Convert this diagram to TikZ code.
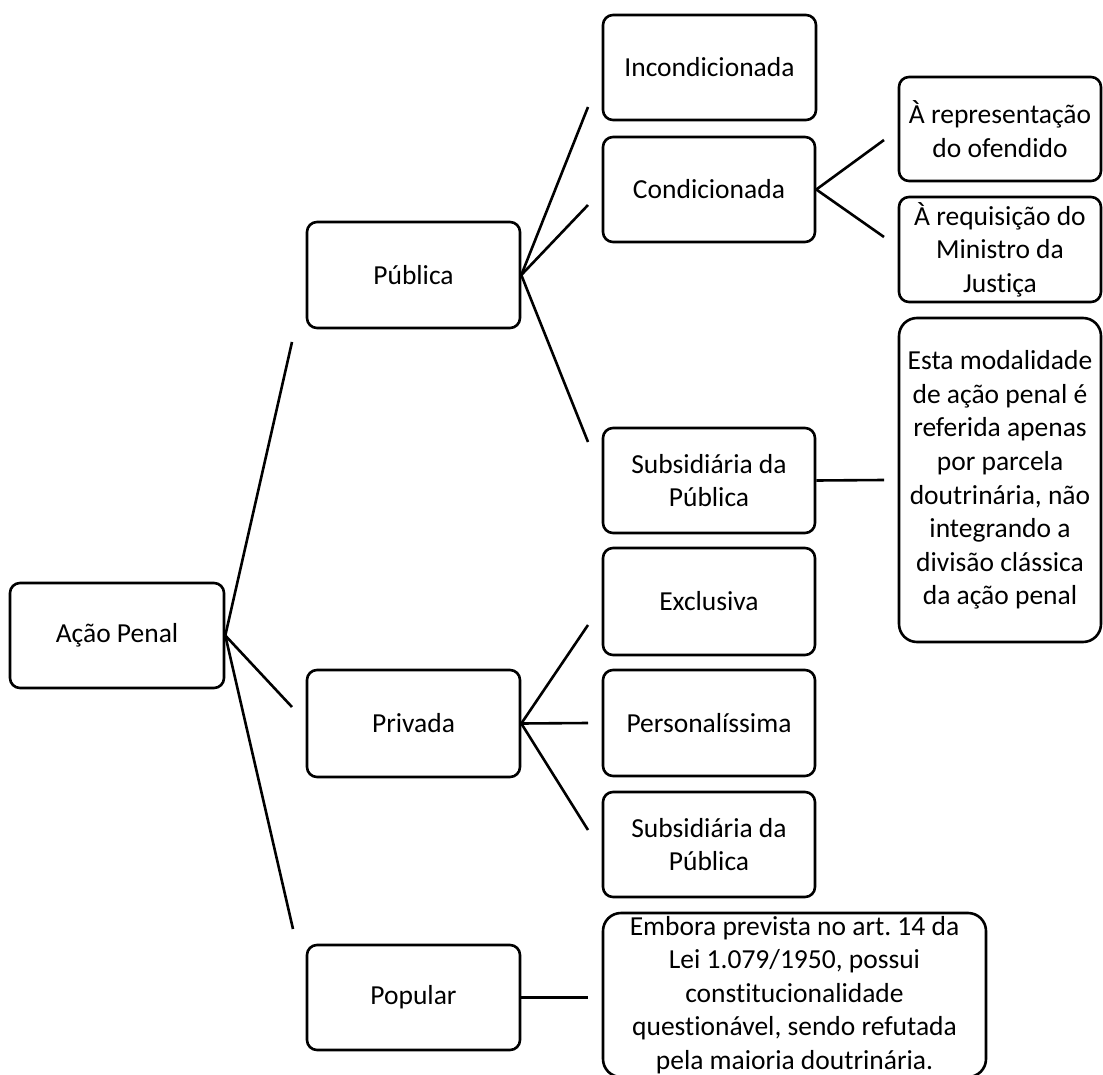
\documentclass[tikz,border=0pt]{standalone}
\usepackage{fontspec}
\setmainfont{Carlito}[RawFeature=-liga]
\frenchspacing
\begin{document}
\begin{tikzpicture}[x=1pt,y=-1pt,
  box/.style={draw=black, line width=2.6pt, rounded corners=10pt, align=center,
    inner sep=2pt, font=\fontsize{27.5}{33.6}\selectfont},
  big/.style={box, rounded corners=18pt},
  conn/.style={line width=2.6pt, black}]
\useasboundingbox (0,0) rectangle (1103,1075);
% level 0
\node[box, minimum width=214pt, minimum height=105pt] (ap) at (117,635.5) {Ação Penal};
% level 1
\node[box, minimum width=213pt, minimum height=106pt] (pub) at (413.5,275) {Pública};
\node[box, minimum width=213pt, minimum height=107pt] (priv) at (413.5,723.5) {Privada};
\node[box, minimum width=213pt, minimum height=105pt] (pop) at (413.5,997.5) {Popular};
% level 2
\node[box, minimum width=213pt, minimum height=105pt] (inc) at (709.5,67.5) {Incondicionada};
\node[box, minimum width=212pt, minimum height=105pt] (cond) at (709,189.5) {Condicionada};
\node[box, minimum width=212pt, minimum height=105pt] (sub1) at (709,480.5) {Subsidiária da\\Pública};
\node[box, minimum width=212pt, minimum height=107pt] (excl) at (709,601.5) {Exclusiva};
\node[box, minimum width=212pt, minimum height=106pt] (pers) at (709,723) {Personalíssima};
\node[box, minimum width=212pt, minimum height=105pt] (sub2) at (709,844.5) {Subsidiária da\\Pública};
\node[big, minimum width=383pt, minimum height=164pt] (emb) at (794.5,995)
  {Embora prevista no art. 14 da\\Lei 1.079/1950, possui\\constitucionalidade\\questionável, sendo refutada\\pela maioria doutrinária.};
% level 3
\node[box, minimum width=202pt, minimum height=104pt] (rep) at (1000,129) {À representação\\do ofendido};
\node[box, minimum width=202pt, minimum height=105pt] (req) at (1000,249.5) {À requisição do\\Ministro da\\Justiça};
\node[big, minimum width=202pt, minimum height=324pt] (esta) at (1000,480)
  {Esta modalidade\\de ação penal é\\referida apenas\\por parcela\\doutrinária, não\\integrando a\\divisão clássica\\da ação penal};
% free ends of connectors
\coordinate (e-pub) at (292,342);
\coordinate (e-priv) at (292,707);
\coordinate (e-pop) at (293,929);
\coordinate (e-inc) at (588,107);
\coordinate (e-cond) at (588,205);
\coordinate (e-sub1) at (588,442);
\coordinate (e-rep) at (884,140);
\coordinate (e-req) at (884,237);
\coordinate (e-esta) at (884,480);
\coordinate (e-excl) at (588,625);
\coordinate (e-pers) at (588,723);
\coordinate (e-sub2) at (588,830);
\coordinate (e-emb) at (588,997.5);
% connectors
\draw[conn] (ap.east) -- (e-pub);
\draw[conn] (ap.east) -- (e-priv);
\draw[conn] (ap.east) -- (e-pop);
\draw[conn] (pub.east) -- (e-inc);
\draw[conn] (pub.east) -- (e-cond);
\draw[conn] (pub.east) -- (e-sub1);
\draw[conn] (cond.east) -- (e-rep);
\draw[conn] (cond.east) -- (e-req);
\draw[conn] (sub1.east) -- (e-esta);
\draw[conn] (priv.east) -- (e-excl);
\draw[conn] (priv.east) -- (e-pers);
\draw[conn] (priv.east) -- (e-sub2);
\draw[conn] (pop.east) -- (e-emb);
\end{tikzpicture}
\end{document}
